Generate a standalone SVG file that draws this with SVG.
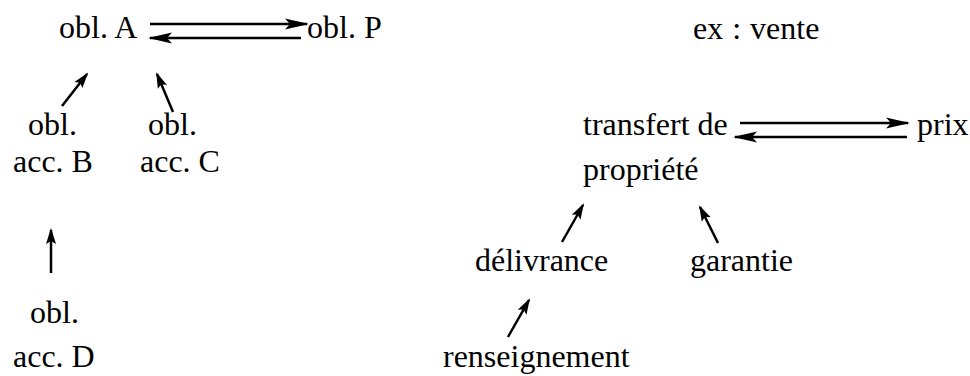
<svg xmlns="http://www.w3.org/2000/svg" width="970" height="376" viewBox="0 0 970 376">
<style>
text{font-family:"Liberation Serif","Times New Roman",serif;font-size:32px;fill:#000}
.c line{stroke:#000;stroke-width:2.5;fill:none}
</style>
<defs>
<marker id="ah" markerUnits="userSpaceOnUse" markerWidth="24" markerHeight="12" refX="22" refY="6" orient="auto">
<path d="M0,0.5 L24,6 L0,11.5 L5,6 Z" fill="#000"/>
</marker>
<marker id="ahs" markerUnits="userSpaceOnUse" markerWidth="16" markerHeight="12" refX="14" refY="6" orient="auto">
<path d="M0,1 L16,6 L0,11 L3,6 Z" fill="#000"/>
</marker>
</defs>
<rect width="970" height="376" fill="#fff"/>
<g id="oblA"><text x="59" y="38">obl. A</text></g>
<g id="oblP"><text x="307" y="38">obl. P</text></g>
<g id="oblB"><text x="28" y="135">obl.</text><text x="13" y="172">acc. B</text></g>
<g id="oblC"><text x="148" y="135">obl.</text><text x="140" y="172">acc. C</text></g>
<g id="oblD"><text x="30" y="323">obl.</text><text x="13" y="367">acc. D</text></g>
<g id="ex"><text x="693" y="39" word-spacing="1">ex : vente</text></g>
<g id="transfert"><text x="583" y="135">transfert de</text><text x="583" y="180">propriété</text></g>
<g id="prix"><text x="917" y="135">prix</text></g>
<g id="delivrance"><text x="475" y="271">délivrance</text></g>
<g id="garantie"><text x="690" y="271">garantie</text></g>
<g id="renseignement"><text x="443" y="367">renseignement</text></g>
<g class="c" id="connectors">
<line x1="150" y1="24" x2="307" y2="24" marker-end="url(#ah)"/>
<line x1="301" y1="38" x2="150" y2="38" marker-end="url(#ah)"/>
<line x1="62" y1="106" x2="87" y2="74" marker-end="url(#ahs)"/>
<line x1="173" y1="112" x2="157" y2="74" marker-end="url(#ahs)"/>
<line x1="51" y1="273" x2="51" y2="230" marker-end="url(#ahs)"/>
<line x1="740" y1="123" x2="908" y2="123" marker-end="url(#ah)"/>
<line x1="907" y1="137" x2="735" y2="137" marker-end="url(#ah)"/>
<line x1="562" y1="242" x2="583" y2="205" marker-end="url(#ahs)"/>
<line x1="718" y1="243" x2="700" y2="207" marker-end="url(#ahs)"/>
<line x1="508" y1="337" x2="529" y2="300" marker-end="url(#ahs)"/>
</g>
</svg>
